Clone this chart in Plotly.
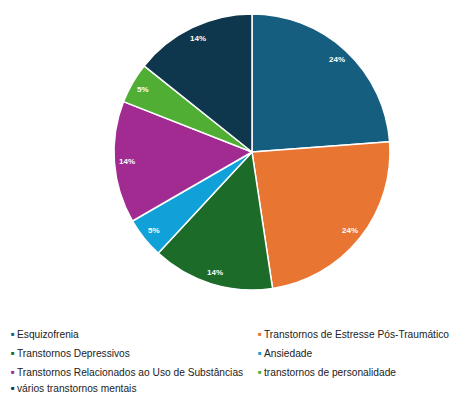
import math
import plotly.graph_objects as go

labels = ["Esquizofrenia", "Transtornos de Estresse Pós-Traumático", "Transtornos Depressivos",
          "Ansiedade", "Transtornos Relacionados ao Uso de Substâncias",
          "transtornos de personalidade", "vários transtornos mentais"]
values = [5, 5, 3, 1, 3, 1, 3]
colors = ["#165E80", "#E97532", "#1C6B28", "#10A1D9", "#A22B91", "#4FAE33", "#0E364D"]

W, H = 452, 394
cx, cy, R = 252, 152, 138
FONT = "Arial, Liberation Sans, sans-serif"

fig = go.Figure(go.Pie(
    labels=labels, values=values, sort=False, direction="clockwise", rotation=0,
    marker=dict(colors=colors, line=dict(color="white", width=1.5)),
    textinfo="none",
    domain=dict(x=[(cx - R) / W, (cx + R) / W], y=[1 - (cy + R) / H, 1 - (cy - R) / H]),
    showlegend=False, hoverinfo="label+percent",
))

# percentage labels placed near the outer rim of each slice
total = sum(values)
cum = 0
for v in values:
    mid = (cum + v / 2) / total * 2 * math.pi
    cum += v
    r = 0.91 * R
    px = cx + r * math.sin(mid)
    py = cy - r * math.cos(mid)
    fig.add_annotation(
        x=px / W, y=1 - py / H, xref="paper", yref="paper", showarrow=False,
        xanchor="center", yanchor="middle",
        text=f"{round(100 * v / total)}%",
        font=dict(family=FONT, size=8, color="white", weight="bold"),
    )

# legend as annotations, two columns
col_x = [10, 257]
row_y = [334.5, 353.5, 372, 388.5]
for i, (lab, col) in enumerate(zip(labels, colors)):
    x = col_x[i % 2]
    y = row_y[i // 2]
    fig.add_annotation(
        x=(x - 1) / W, y=1 - (y - 0.5) / H, xref="paper", yref="paper", xanchor="left", yanchor="middle",
        text="■", showarrow=False, font=dict(family=FONT, size=6, color=col),
    )
    fig.add_annotation(
        x=(x + 5) / W, y=1 - y / H, xref="paper", yref="paper", xanchor="left", yanchor="middle",
        text=lab, showarrow=False,
        font=dict(family=FONT, size=10.2, color="#222"),
    )

fig.update_layout(
    width=W, height=H, margin=dict(l=0, r=0, t=0, b=0),
    paper_bgcolor="white", plot_bgcolor="white",
)
fig.write_html("out.html")
